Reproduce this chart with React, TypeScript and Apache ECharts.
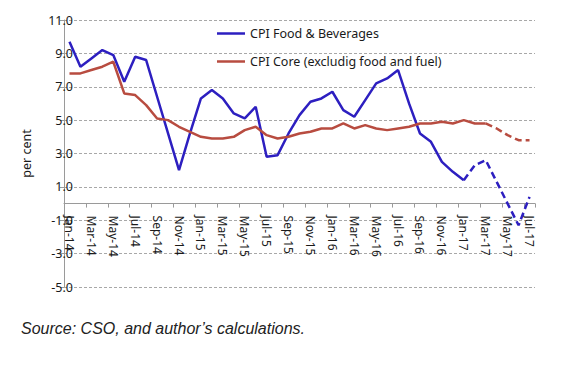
import React, { useEffect, useRef } from "react";
import * as echarts from "echarts";

const months: string[] = [
  "Jan-14", "Feb-14", "Mar-14", "Apr-14", "May-14", "Jun-14", "Jul-14", "Aug-14", "Sep-14", "Oct-14", "Nov-14", "Dec-14",
  "Jan-15", "Feb-15", "Mar-15", "Apr-15", "May-15", "Jun-15", "Jul-15", "Aug-15", "Sep-15", "Oct-15", "Nov-15", "Dec-15",
  "Jan-16", "Feb-16", "Mar-16", "Apr-16", "May-16", "Jun-16", "Jul-16", "Aug-16", "Sep-16", "Oct-16", "Nov-16", "Dec-16",
  "Jan-17", "Feb-17", "Mar-17", "Apr-17", "May-17", "Jun-17", "Jul-17",
];

const cpiFood: number[] = [
  9.7, 8.2, 8.7, 9.2, 8.9, 7.3, 8.8, 8.6, 6.4, 4.2, 2.0, 4.2,
  6.3, 6.8, 6.3, 5.4, 5.1, 5.8, 2.8, 2.9, 4.2, 5.3, 6.1, 6.3,
  6.7, 5.6, 5.2, 6.2, 7.2, 7.5, 8.0, 6.0, 4.2, 3.7, 2.5, 1.9,
  1.4, 2.3, 2.6, 1.3, 0.0, -1.3, 0.4,
];

const cpiCore: number[] = [
  7.8, 7.8, 8.0, 8.2, 8.5, 6.6, 6.5, 5.9, 5.1, 5.0, 4.6, 4.3,
  4.0, 3.9, 3.9, 4.0, 4.4, 4.6, 4.1, 3.9, 4.0, 4.2, 4.3, 4.5,
  4.5, 4.8, 4.5, 4.7, 4.5, 4.4, 4.5, 4.6, 4.8, 4.8, 4.9, 4.8,
  5.0, 4.8, 4.8, 4.5, 4.1, 3.8, 3.8,
];

const foodSolidEnd = 36; // Jan-17: dashed projection afterwards
const coreSolidEnd = 38; // Mar-17

const yTicks: number[] = [-5, -3, -1, 1, 3, 5, 7, 9, 11];
const Y_MIN = -5;
const Y_MAX = 11;

const FOOD_NAME = "CPI Food & Beverages";
const CORE_NAME = "CPI Core (excludig food and fuel)";

const BLUE = "#2d1fc0";
const RED = "#b84c40";

const W = 577;
const H = 367;
const G_LEFT = 64;
const G_RIGHT = 42;
const G_TOP = 20;
const G_BOTTOM = 80;

function splitSolid(arr: number[], end: number) {
  return arr.map((v, i) => (i <= end ? v : null));
}
function splitDashed(arr: number[], end: number) {
  return arr.map((v, i) => (i >= end ? v : null));
}

export default function App() {
  const ref = useRef<HTMLDivElement>(null);

  useEffect(() => {
    document.body.style.margin = "0";
    if (!ref.current) return;
    const chart = echarts.init(ref.current, undefined, { renderer: "svg" });
    const font = '"Noto Sans", "Open Sans", sans-serif';
    const textColor = "#1a1a1a";
    const axisGray = "#9a9a9a";

    const plotH = H - G_TOP - G_BOTTOM;
    const zeroFromTop = plotH * (Y_MAX / (Y_MAX - Y_MIN));

    chart.setOption({
      animation: false,
      backgroundColor: "#ffffff",
      grid: [
        { left: G_LEFT, right: G_RIGHT, top: G_TOP, bottom: G_BOTTOM },
        { left: G_LEFT, right: G_RIGHT, top: G_TOP, height: zeroFromTop },
        { left: G_LEFT, right: G_RIGHT, top: G_TOP, bottom: G_BOTTOM },
      ],
      legend: {
        orient: "vertical",
        left: 212,
        top: 22,
        itemGap: 15,
        itemWidth: 28,
        itemHeight: 2.5,
        icon: "rect",
        data: [FOOD_NAME, CORE_NAME],
        textStyle: { fontSize: 12.5, color: textColor, fontFamily: font },
      },
      xAxis: [
        {
          type: "category",
          gridIndex: 0,
          data: months,
          boundaryGap: true,
          show: false,
        },
        {
          type: "category",
          gridIndex: 1,
          data: months,
          boundaryGap: true,
          position: "bottom",
          axisLine: { show: true, onZero: false, lineStyle: { color: axisGray, width: 1 } },
          axisTick: { show: true, interval: 1, length: 4, lineStyle: { color: axisGray } },
          axisLabel: {
            interval: 1,
            rotate: -90,
            margin: 12,
            fontSize: 12,
            color: textColor,
            fontFamily: font,
          },
          splitLine: { show: false },
        },
        {
          type: "category",
          gridIndex: 2,
          data: months,
          show: false,
        },
      ],
      yAxis: [
        {
          type: "value",
          gridIndex: 0,
          position: "left",
          min: Y_MIN,
          max: Y_MAX,
          name: "per cent",
          nameLocation: "middle",
          nameGap: 31,
          nameMoveOverlap: false,
          nameTextStyle: { fontSize: 12.5, color: textColor, fontFamily: font },
          axisLine: { show: false },
          axisTick: { show: true, length: 4, customValues: yTicks, lineStyle: { color: axisGray } },
          axisLabel: {
            customValues: yTicks,
            align: "right",
            margin: -9,
            fontSize: 12.5,
            color: textColor,
            fontFamily: font,
            formatter: (v: number) => v.toFixed(1),
          },
          splitLine: { show: true, lineStyle: { color: "#a8a8a8", type: [3, 2], width: 1 } },
        },
        {
          type: "value",
          gridIndex: 1,
          show: false,
          min: 0,
          max: 1,
        },
        {
          type: "value",
          gridIndex: 2,
          position: "left",
          min: Y_MIN,
          max: Y_MAX,
          axisLine: { show: true, onZero: false, lineStyle: { color: axisGray, width: 1 } },
          axisTick: { show: false },
          axisLabel: { show: false },
          splitLine: { show: false },
        },
      ],
      series: [
        {
          name: FOOD_NAME,
          type: "line",
          data: splitSolid(cpiFood, foodSolidEnd),
          symbol: "none",
          lineStyle: { color: BLUE, width: 2.5 },
          itemStyle: { color: BLUE },
        },
        {
          name: FOOD_NAME + " (projection)",
          type: "line",
          data: splitDashed(cpiFood, foodSolidEnd),
          symbol: "none",
          lineStyle: { color: BLUE, width: 2.5, type: [7, 4] },
          itemStyle: { color: BLUE },
        },
        {
          name: CORE_NAME,
          type: "line",
          data: splitSolid(cpiCore, coreSolidEnd),
          symbol: "none",
          lineStyle: { color: RED, width: 2.5 },
          itemStyle: { color: RED },
        },
        {
          name: CORE_NAME + " (projection)",
          type: "line",
          data: splitDashed(cpiCore, coreSolidEnd),
          symbol: "none",
          lineStyle: { color: RED, width: 2.5, type: [7, 4] },
          itemStyle: { color: RED },
        },
      ],
      graphic: [
        {
          type: "text",
          left: 21,
          top: 320,
          style: {
            text: "Source: CSO, and author\u2019s calculations.",
            font: 'italic 16px "Liberation Sans", Arial, sans-serif',
            fill: "#222222",
          },
        },
      ],
    });

    return () => {
      chart.dispose();
    };
  }, []);

  return <div ref={ref} style={{ width: W, height: H }} />;
}
